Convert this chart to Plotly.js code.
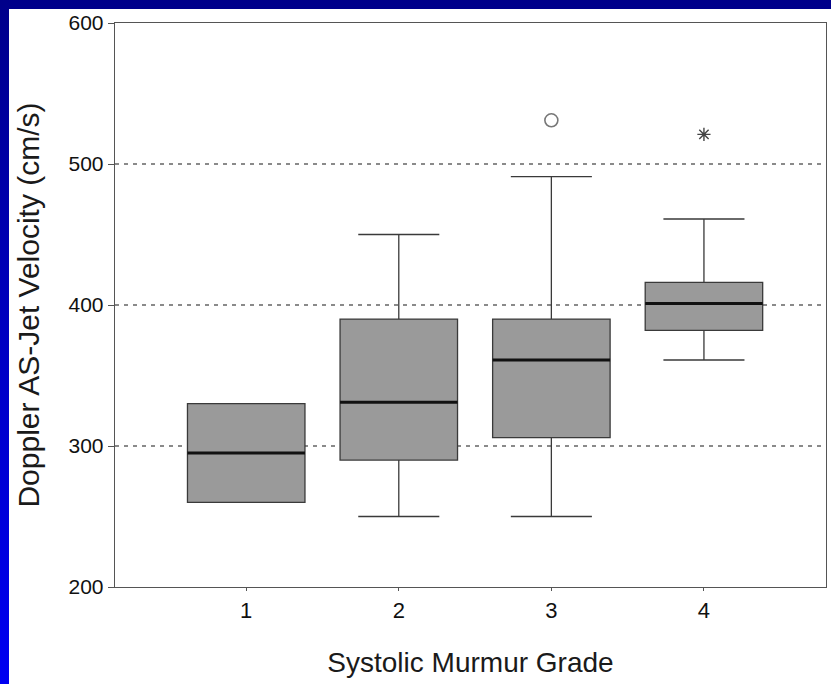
<!DOCTYPE html>
<html>
<head>
<meta charset="utf-8">
<script src="https://cdn.plot.ly/plotly-3.0.1.min.js"></script>
<style>
  html, body { margin: 0; padding: 0; width: 831px; height: 684px; overflow: hidden;
    background: linear-gradient(to bottom, #00008a 0%, #0000c8 55%, #0000f2 100%); }
  #chart { position: absolute; left: 9px; top: 9px; width: 822px; height: 675px; }
</style>
</head>
<body>
<div id="chart"></div>
<script>
// ---- data ----
const grades = [1, 2, 3, 4];
const tickLabels = ["1", "2", "3", "4"];
const q1 = [260, 290, 306, 382];
const medians = [295, 331, 361, 401];
const q3 = [330, 390, 390, 416];
const lowerWhisker = [260, 250, 250, 361];
const upperWhisker = [330, 450, 491, 461];
const outlierGrades = [3];
const outlierValues = [531];
const extremeGrades = [4];
const extremeValues = [521];
const yTicks = [200, 300, 400, 500, 600];

// ---- styles ----
const BOX_W = 0.77;
const fontFam = '"Liberation Sans", Arial, sans-serif';

const traces = [];
traces.push({
  type: 'box',
  x: grades,
  q1: q1, median: medians, q3: q3,
  lowerfence: lowerWhisker, upperfence: upperWhisker,
  width: BOX_W,
  whiskerwidth: 0.69,
  fillcolor: '#9a9a9a',
  line: { color: '#3a3a3a', width: 1.3 },
  boxpoints: false,
  hoverinfo: 'skip',
  showlegend: false
});

// thick median lines
const mx = [], my = [];
grades.forEach((g, i) => {
  mx.push(g - BOX_W / 2, g + BOX_W / 2, null);
  my.push(medians[i], medians[i], null);
});
traces.push({
  type: 'scatter', mode: 'lines', x: mx, y: my,
  line: { color: '#111', width: 3 }, hoverinfo: 'skip', showlegend: false
});

traces.push({
  type: 'scatter', mode: 'markers', x: outlierGrades, y: outlierValues,
  marker: { symbol: 'circle-open', size: 13, color: '#777', line: { width: 1.6, color: '#777' } },
  hoverinfo: 'skip', showlegend: false
});
traces.push({
  type: 'scatter', mode: 'markers', x: extremeGrades, y: extremeValues,
  marker: { symbol: 'asterisk-open', size: 11, color: '#444', line: { width: 1.4, color: '#444' } },
  hoverinfo: 'skip', showlegend: false
});

const layout = {
  width: 822, height: 675,
  margin: { l: 106, r: 5, t: 14, b: 97 },
  paper_bgcolor: '#ffffff',
  plot_bgcolor: '#ffffff',
  showlegend: false,
  font: { family: fontFam, color: '#111' },
  xaxis: {
    range: [0.14, 4.8],
    tickvals: grades, ticktext: tickLabels,
    showgrid: false, zeroline: false,
    showline: true, linecolor: '#555', linewidth: 1.3, mirror: true,
    ticks: 'outside', ticklen: 3, tickcolor: '#555',
    tickfont: { size: 22, color: '#111' },
    title: { text: 'Systolic Murmur Grade', font: { size: 28, color: '#1a1a1a' }, standoff: 30 },
    automargin: false
  },
  yaxis: {
    range: [200, 600],
    tickvals: yTicks,
    showgrid: true, gridcolor: '#8a8a8a', gridwidth: 1.2, griddash: '4px,5px',
    zeroline: false,
    showline: true, linecolor: '#555', linewidth: 1.3, mirror: true,
    ticks: 'outside', ticklen: 6, tickcolor: '#555',
    tickfont: { size: 21, color: '#111' },
    title: { text: 'Doppler AS-Jet Velocity (cm/s)', font: { size: 30, color: '#1a1a1a' }, standoff: 20 },
    automargin: false
  }
};

Plotly.newPlot('chart', traces, layout, { staticPlot: true, displayModeBar: false });
</script>
</body>
</html>
